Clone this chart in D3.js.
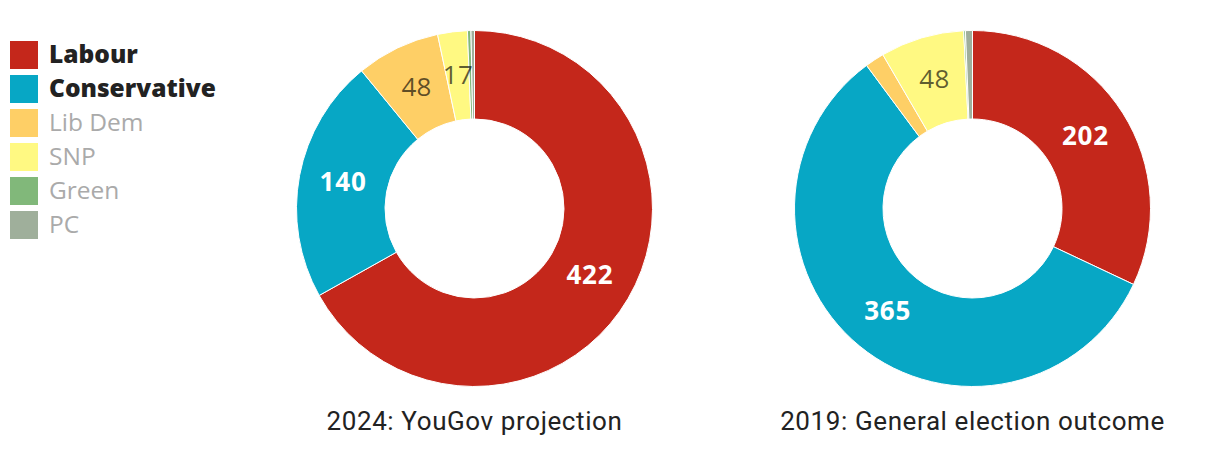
<!DOCTYPE html>
<html><head><meta charset="utf-8">
<script src="https://cdn.jsdelivr.net/npm/d3@7"></script>
<style>
html,body{margin:0;padding:0;background:#fff;}
svg{display:block;}
</style></head>
<body>
<svg id="chart" width="1220" height="468"></svg>
<script>
const parties = ["Labour","Conservative","Lib Dem","SNP","Green","PC"];
const colors = ["#c4271b","#07a7c5","#fecf66","#fff982","#81b87a","#9faf9b"];
const seats2024 = [422,140,48,17,2,2];
const seats2019 = [202,365,11,48,1,4];
const titles = ["2024: YouGov projection","2019: General election outcome"];
const highlighted = ["Labour","Conservative"];
const minLabel = 15;

const svg = d3.select("#chart");
const color = d3.scaleOrdinal().domain(parties).range(colors);

// legend
const leg = svg.append("g").attr("transform","translate(10,41)");
const items = leg.selectAll("g").data(parties).join("g")
  .attr("transform",(d,i)=>`translate(0,${i*34})`);
items.append("rect").attr("width",28).attr("height",28).attr("fill",d=>color(d));
items.append("text").attr("x",39).attr("y",21.5)
  .style("font-family","'Open Sans', 'Noto Sans', sans-serif")
  .style("font-size","24.5px")
  .style("font-weight",d=>highlighted.includes(d)?"800":"400")
  .attr("fill",d=>highlighted.includes(d)?"#222":"#aaa")
  .text(d=>d);

const outerR = 178, innerR = 89.5;
const centers = [[474.5,208.5],[972.5,208.5]];
const pie = d3.pie().sort(null).value(d=>d.v);
const arc = d3.arc().innerRadius(innerR).outerRadius(outerR);

[seats2024, seats2019].forEach((vals,k)=>{
  const data = parties.map((p,i)=>({p, v: vals[i]}));
  const g = svg.append("g").attr("transform",`translate(${centers[k][0]},${centers[k][1]})`);
  const arcs = pie(data);
  g.selectAll("path").data(arcs).join("path")
    .attr("d",arc).attr("fill",d=>color(d.data.p))
    .attr("stroke","#fff").attr("stroke-width",1);
  g.selectAll("text").data(arcs.filter(d=>d.data.v>=minLabel)).join("text")
    .attr("transform",d=>`translate(${arc.centroid(d)})`)
    .attr("text-anchor","middle").attr("dy","0.3em")
    .style("font-family","'Open Sans', 'Noto Sans', sans-serif")
    .style("font-size","26px")
    .style("letter-spacing",d=>highlighted.includes(d.data.p)?"0.8px":"0.3px")
    .style("font-weight",d=>highlighted.includes(d.data.p)?"700":"400")
    .attr("fill",d=>highlighted.includes(d.data.p)?"#fff":"#000")
    .attr("fill-opacity",d=>highlighted.includes(d.data.p)?1:0.63)
    .text(d=>d.data.v);
  svg.append("text").attr("x",centers[k][0]).attr("y",430)
    .attr("text-anchor","middle")
    .style("font-family","'Liberation Sans Narrow', 'Roboto', sans-serif")
    .style("font-size","26px")
    .style("letter-spacing","0.6px")
    .attr("fill","#222")
    .text(titles[k]);
});
</script>
</body></html>
